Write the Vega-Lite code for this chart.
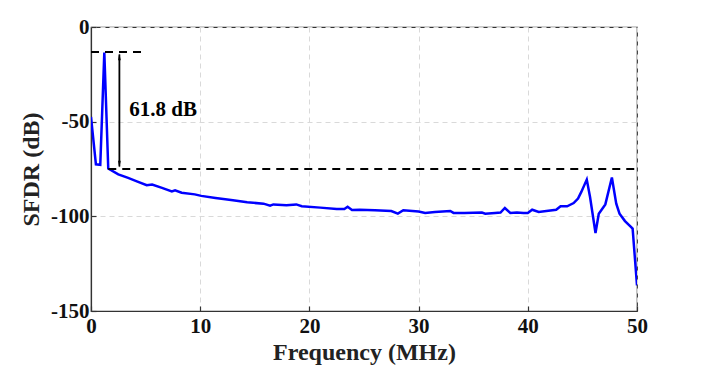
{
  "$schema": "https://vega.github.io/schema/vega-lite/v6.json",
  "autosize": {"type": "none"},
  "padding": {"left": 91, "top": 27, "right": 68, "bottom": 58},
  "width": 546,
  "height": 284,
  "background": "white",
  "config": {
    "view": {"stroke": "#333", "strokeWidth": 1.2},
    "font": "Liberation Serif",
    "axis": {
      "labelFont": "Liberation Serif", "labelFontWeight": "bold", "labelFontSize": 21, "labelColor": "#111",
      "titleFont": "Liberation Serif", "titleFontWeight": "bold", "titleFontSize": 24, "titleColor": "#222",
      "gridColor": "#d9d9d9", "gridDash": [5, 4], "gridWidth": 1,
      "domainColor": "#333", "domainWidth": 1.2, "tickColor": "#333", "tickSize": -5, "tickWidth": 1.2
    }
  },
  "datasets": {
    "curve": [
      {"f": 0, "v": -47.5}, {"f": 0.45, "v": -72.5}, {"f": 0.85, "v": -72.8}, {"f": 1.22, "v": -13.5},
      {"f": 1.58, "v": -74.8}, {"f": 2.5, "v": -77.8}, {"f": 3.4, "v": -79.7}, {"f": 4.2, "v": -81.5},
      {"f": 5.1, "v": -83.6}, {"f": 5.6, "v": -83.2}, {"f": 6.5, "v": -85}, {"f": 7.4, "v": -86.8},
      {"f": 7.7, "v": -86.2}, {"f": 8.3, "v": -87.5}, {"f": 9.5, "v": -88.4}, {"f": 10.1, "v": -89.2},
      {"f": 11.4, "v": -90.3}, {"f": 12.3, "v": -91}, {"f": 13, "v": -91.5}, {"f": 14.3, "v": -92.6},
      {"f": 15.8, "v": -93.3}, {"f": 16.4, "v": -94.4}, {"f": 16.7, "v": -93.7}, {"f": 17.9, "v": -94.2},
      {"f": 18.8, "v": -93.7}, {"f": 19.3, "v": -94.7}, {"f": 21, "v": -95.4}, {"f": 22.5, "v": -96.1},
      {"f": 23.2, "v": -96.1}, {"f": 23.5, "v": -94.9}, {"f": 23.9, "v": -96.6}, {"f": 24.6, "v": -96.5},
      {"f": 26, "v": -96.8}, {"f": 27.5, "v": -97.2}, {"f": 28.1, "v": -98.6}, {"f": 28.6, "v": -96.8},
      {"f": 30, "v": -97.4}, {"f": 30.6, "v": -98.2}, {"f": 31.5, "v": -97.7}, {"f": 32.9, "v": -97.2},
      {"f": 33.2, "v": -98.2}, {"f": 34.2, "v": -98.2}, {"f": 35.8, "v": -98}, {"f": 36.1, "v": -98.6},
      {"f": 37, "v": -98.2}, {"f": 37.5, "v": -98}, {"f": 37.9, "v": -95.6}, {"f": 38.4, "v": -98.2},
      {"f": 39, "v": -98}, {"f": 39.6, "v": -98.2}, {"f": 40, "v": -98.2}, {"f": 40.4, "v": -96.5},
      {"f": 41, "v": -97.7}, {"f": 41.7, "v": -97.2}, {"f": 42.6, "v": -96.5}, {"f": 43, "v": -94.7},
      {"f": 43.6, "v": -94.7}, {"f": 44.2, "v": -93}, {"f": 44.6, "v": -90.6}, {"f": 44.9, "v": -87.1},
      {"f": 45.4, "v": -80.6}, {"f": 45.7, "v": -89.8}, {"f": 46.2, "v": -108.8}, {"f": 46.5, "v": -98.6},
      {"f": 47.1, "v": -93.7}, {"f": 47.7, "v": -79.5}, {"f": 48.1, "v": -93.3}, {"f": 48.4, "v": -98.6},
      {"f": 48.9, "v": -102.5}, {"f": 49.3, "v": -104.8}, {"f": 49.6, "v": -106.5}, {"f": 50, "v": -136.5}
    ],
    "dashes": [
      {"x1": 0, "x2": 4.6, "y": -13.2},
      {"x1": 1.58, "x2": 50, "y": -75}
    ],
    "arrow": [{"x": 2.6, "y1": -14.5, "y2": -73.7}],
    "heads": [
      {"x": 2.6, "y": -15.8, "dir": "up"},
      {"x": 2.6, "y": -72.4, "dir": "down"}
    ],
    "label": [{"x": 3.5, "y": -44, "t": "61.8 dB"}]
  },
  "layer": [
    {
      "data": {"name": "curve"},
      "mark": {"type": "line", "color": "#0000ff", "strokeWidth": 2.5, "clip": true},
      "encoding": {
        "x": {"field": "f", "type": "quantitative", "scale": {"domain": [0, 50], "nice": false},
              "axis": {"title": "Frequency (MHz)", "values": [0, 10, 20, 30, 40, 50], "labelPadding": 9, "titlePadding": 4, "labelFlush": false}},
        "y": {"field": "v", "type": "quantitative", "scale": {"domain": [-150, 0], "nice": false},
              "axis": {"title": "SFDR (dB)", "values": [-150, -100, -50, 0], "labelExpr": "'' + datum.value", "labelPadding": 7, "titlePadding": 7, "labelFlush": false}}
      }
    },
    {
      "data": {"name": "dashes"},
      "mark": {"type": "rule", "color": "black", "strokeWidth": 2, "strokeDash": [8, 6]},
      "encoding": {
        "x": {"field": "x1", "type": "quantitative"},
        "x2": {"field": "x2"},
        "y": {"field": "y", "type": "quantitative"}
      }
    },
    {
      "data": {"name": "arrow"},
      "mark": {"type": "rule", "color": "black", "strokeWidth": 1.8},
      "encoding": {
        "x": {"field": "x", "type": "quantitative"},
        "y": {"field": "y1", "type": "quantitative"},
        "y2": {"field": "y2"}
      }
    },
    {
      "data": {"name": "heads"},
      "mark": {"type": "point", "filled": true, "color": "black", "size": 45, "opacity": 1},
      "encoding": {
        "x": {"field": "x", "type": "quantitative"},
        "y": {"field": "y", "type": "quantitative"},
        "shape": {"field": "dir", "type": "nominal", "scale": {"domain": ["up", "down"], "range": ["M-0.4,1L0,-1L0.4,1Z", "M-0.4,-1L0,1L0.4,-1Z"]}, "legend": null}
      }
    },
    {
      "data": {"name": "label"},
      "mark": {"type": "text", "font": "Liberation Serif", "fontWeight": "bold", "fontSize": 21, "align": "left", "baseline": "middle", "color": "black"},
      "encoding": {
        "x": {"field": "x", "type": "quantitative"},
        "y": {"field": "y", "type": "quantitative"},
        "text": {"field": "t"}
      }
    }
  ]
}
